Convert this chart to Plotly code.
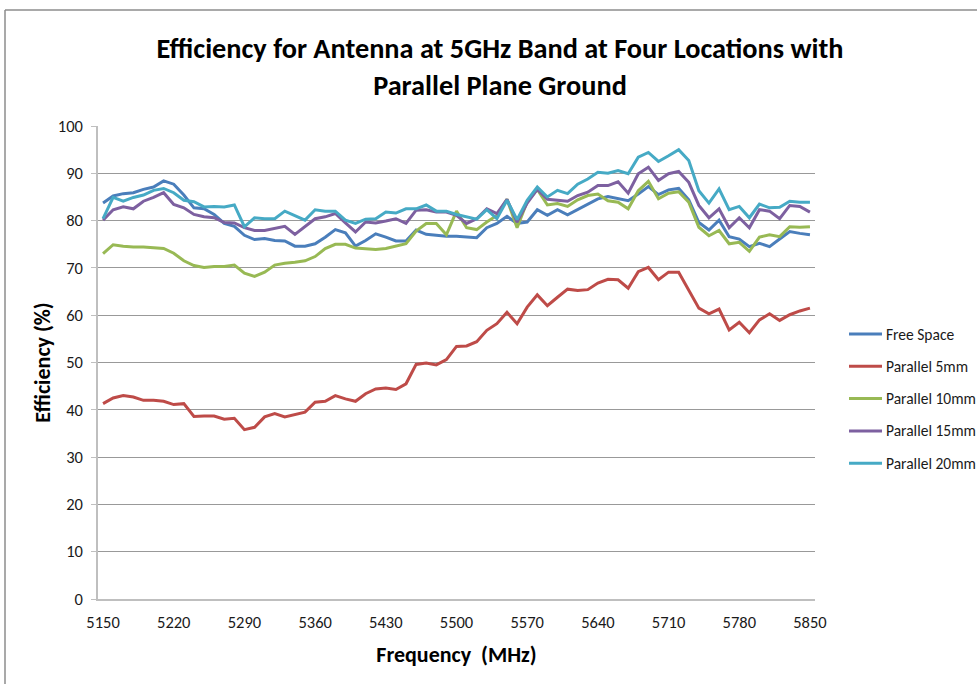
import plotly.graph_objects as go

# Frequency categories (MHz), one point every 10 MHz
freq = list(range(5150, 5860, 10))

free_space = [83.7, 85.2, 85.7, 85.9, 86.6, 87.1, 88.4, 87.7, 85.4, 82.7,
              82.5, 81.3, 79.4, 78.8, 76.9, 76.0, 76.2, 75.8, 75.7, 74.6,
              74.6, 75.1, 76.5, 78.1, 77.4, 74.6, 75.8, 77.2, 76.5, 75.7,
              75.7, 78.0, 77.1, 76.9, 76.7, 76.7, 76.5, 76.4, 78.5, 79.4,
              80.9, 79.4, 79.7, 82.3, 81.1, 82.3, 81.2, 82.3, 83.5, 84.6,
              85.1, 84.7, 84.2, 85.6, 87.2, 85.5, 86.5, 86.8, 84.4, 79.6,
              78.0, 80.1, 76.6, 76.1, 74.5, 75.2, 74.5, 76.1, 77.7, 77.3,
              77.0]

parallel_5mm = [41.3, 42.5, 43.0, 42.7, 42.0, 42.0, 41.8, 41.1, 41.3, 38.6,
                38.7, 38.7, 38.0, 38.2, 35.8, 36.3, 38.5, 39.2, 38.5, 39.0,
                39.5, 41.6, 41.8, 43.0, 42.3, 41.8, 43.4, 44.4, 44.6, 44.3,
                45.5, 49.6, 49.9, 49.5, 50.6, 53.4, 53.5, 54.4, 56.8, 58.2,
                60.6, 58.2, 61.7, 64.3, 62.0, 63.8, 65.5, 65.2, 65.4, 66.8,
                67.6, 67.5, 65.7, 69.2, 70.1, 67.5, 69.1, 69.1, 65.4, 61.5,
                60.3, 61.3, 56.9, 58.5, 56.3, 59.0, 60.3, 58.9, 60.1, 60.9,
                61.5]

parallel_10mm = [73.0, 74.9, 74.6, 74.4, 74.4, 74.3, 74.1, 73.1, 71.5, 70.5,
                 70.1, 70.3, 70.3, 70.6, 68.9, 68.2, 69.1, 70.6, 71.0, 71.2,
                 71.5, 72.4, 74.1, 75.0, 75.0, 74.2, 74.0, 73.9, 74.1, 74.6,
                 75.1, 77.8, 79.4, 79.4, 77.0, 82.0, 78.5, 78.1, 79.7, 81.1,
                 84.5, 78.5, 84.0, 86.6, 83.3, 83.6, 83.0, 84.4, 85.3, 85.6,
                 84.2, 83.9, 82.5, 86.3, 88.3, 84.6, 85.8, 86.1, 83.9, 78.6,
                 76.8, 77.9, 75.1, 75.4, 73.5, 76.5, 77.0, 76.6, 78.7, 78.6,
                 78.7]

parallel_15mm = [80.1, 82.3, 82.9, 82.5, 84.1, 84.9, 85.9, 83.4, 82.7, 81.3,
                 80.8, 80.6, 79.6, 79.5, 78.5, 77.9, 77.9, 78.3, 78.8, 77.1,
                 78.8, 80.4, 80.8, 81.5, 79.5, 77.6, 79.7, 79.5, 79.9, 80.4,
                 79.4, 82.2, 82.3, 81.8, 81.8, 81.1, 79.4, 80.4, 82.5, 81.5,
                 84.5, 79.7, 83.7, 86.6, 84.5, 84.3, 84.1, 85.3, 86.0, 87.4,
                 87.4, 88.2, 85.8, 89.9, 91.3, 88.5, 89.9, 90.4, 88.1, 83.2,
                 80.6, 82.5, 78.5, 80.6, 78.5, 82.3, 82.0, 80.4, 83.2, 83.0,
                 81.8]

parallel_20mm = [80.4, 84.9, 84.1, 84.9, 85.4, 86.4, 86.8, 85.9, 84.3, 84.0,
                 82.9, 83.0, 82.9, 83.3, 78.7, 80.6, 80.4, 80.4, 82.0, 81.1,
                 80.1, 82.3, 82.0, 82.0, 80.1, 79.4, 80.3, 80.4, 81.8, 81.6,
                 82.5, 82.5, 83.3, 82.0, 82.0, 81.3, 80.8, 80.3, 82.3, 80.4,
                 84.3, 80.2, 84.3, 87.1, 85.0, 86.4, 85.7, 87.7, 88.8, 90.2,
                 90.0, 90.6, 89.9, 93.4, 94.4, 92.5, 93.7, 95.0, 92.7, 86.3,
                 83.7, 86.7, 82.3, 83.0, 80.6, 83.5, 82.7, 82.8, 84.1, 83.9,
                 83.9]

series = [
    ("Free Space", free_space, "#4A7EBB"),
    ("Parallel 5mm", parallel_5mm, "#BE4B48"),
    ("Parallel 10mm", parallel_10mm, "#98B954"),
    ("Parallel 15mm", parallel_15mm, "#7D60A0"),
    ("Parallel 20mm", parallel_20mm, "#46AAC5"),
]

x_ticks = [5150, 5220, 5290, 5360, 5430, 5500, 5570, 5640, 5710, 5780, 5850]
y_ticks = [0, 10, 20, 30, 40, 50, 60, 70, 80, 90, 100]

FONT = "Calibri, Carlito, Lato, sans-serif"
TEXT = "#1a1a1a"

W, H = 977, 684
ML, MR, MT, MB = 98, 162, 126, 85
PW, PH = W - ML - MR, H - MT - MB


def px_x(x):  # pixel -> paper x
    return (x - ML) / PW


def px_y(y):  # pixel -> paper y
    return (MT + PH - y) / PH


fig = go.Figure()
for name, vals, color in series:
    fig.add_trace(go.Scatter(
        x=freq, y=vals, name=name, mode="lines",
        line=dict(color=color, width=3),
    ))

shapes = [
    # outer chart frame (runs past the right and bottom edges)
    dict(type="line", xref="paper", yref="paper",
         x0=px_x(5), x1=1.5, y0=px_y(10), y1=px_y(10),
         line=dict(color="#8c8c8c", width=1.5)),
    dict(type="line", xref="paper", yref="paper",
         x0=px_x(5), x1=px_x(5), y0=px_y(10), y1=-0.5,
         line=dict(color="#8c8c8c", width=1.5)),
]
annotations = []

# legend drawn by hand so it does not squeeze the plot area
for i, (name, _, color) in enumerate(series):
    ly = px_y(334 + 32.3 * i)
    shapes.append(dict(type="line", xref="paper", yref="paper",
                       x0=px_x(849), x1=px_x(882), y0=ly, y1=ly,
                       line=dict(color=color, width=3)))
    annotations.append(dict(xref="paper", yref="paper", x=px_x(884), y=ly,
                            text=name, showarrow=False, xanchor="left", yanchor="middle",
                            font=dict(family=FONT, size=15.5, color=TEXT)))

fig.update_layout(
    width=W, height=H,
    paper_bgcolor="white", plot_bgcolor="white",
    font=dict(family=FONT, color=TEXT, size=16),
    margin=dict(l=ML, r=MR, t=MT, b=MB),
    title=dict(
        text="Efficiency for Antenna at 5GHz Band at Four Locations with<br>Parallel Plane Ground",
        font=dict(family=FONT, size=28.3, color="black", weight="bold"),
        x=500 / W, xanchor="center", y=1 - 58 / H, yanchor="middle",
    ),
    showlegend=False,
    shapes=shapes,
    annotations=annotations,
)

fig.update_xaxes(
    range=[5145, 5855], tickvals=x_ticks, ticks="", showgrid=False,
    showline=True, linecolor="#bfbfbf", linewidth=1.5, automargin=False,
    tickfont=dict(family=FONT, size=16.5, color=TEXT), ticklabelstandoff=7,
    title=dict(text="Frequency  (MHz)", font=dict(family=FONT, size=22, color="black", weight="bold"),
               standoff=16),
    zeroline=False,
)
fig.update_yaxes(
    range=[0, 100], tickvals=y_ticks, ticks="outside", ticklen=5, tickcolor="#bfbfbf",
    showgrid=True, gridcolor="#999999", gridwidth=1,
    showline=True, linecolor="#bfbfbf", linewidth=1.5, automargin=False,
    tickfont=dict(family=FONT, size=16.5, color=TEXT), ticklabelstandoff=5,
    title=dict(text="Efficiency (%)", font=dict(family=FONT, size=22, color="black", weight="bold"),
               standoff=1),
    zeroline=False,
)

# drop the default body margin so the 977x684 figure fills the window exactly
fig.write_html("out.html", config={"displayModeBar": False},
               post_script="document.body.style.margin='0';")
